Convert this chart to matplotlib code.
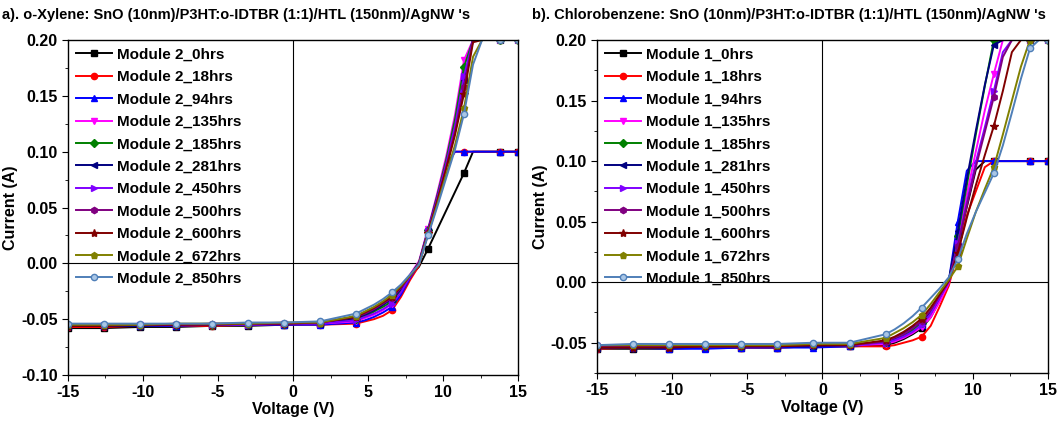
import matplotlib
matplotlib.use("Agg")
import matplotlib.pyplot as plt
from matplotlib.ticker import MultipleLocator, FormatStrFormatter

plt.rcParams["font.family"] = ["Liberation Sans", "DejaVu Sans"]
plt.rcParams["font.weight"] = "bold"
plt.rcParams["axes.labelweight"] = "bold"
plt.rcParams["axes.unicode_minus"] = False

# sweep voltages (V); markers every 2.4 V
V = [-15.0, -12.6, -10.2, -7.8, -5.4, -3.0, -0.6, 1.8,
     4.2, 4.8, 5.4, 6.0, 6.6, 7.2, 7.8,
     8.4, 9.0, 9.6, 10.2, 10.8, 11.4, 12.0, 12.6, 13.2, 13.8, 14.4, 15.0]
MARK_IDX = [0, 1, 2, 3, 4, 5, 6, 7, 8, 12, 16, 20, 24, 26]

HOURS = [0, 18, 94, 135, 185, 281, 450, 500, 600, 672, 850]
COLORS = ["#000000", "#ff0000", "#0000ff", "#ff00ff", "#008000", "#000080",
          "#8000ff", "#800080", "#800000", "#808000", "#4f7fb8"]
MARKERS = ["s", "o", "^", "v", "D", "<", ">", "h", "*", "p", "o"]

# a) o-Xylene, Module 2 (current in A)
xyl_0h = [-0.058, -0.058, -0.057, -0.057, -0.056, -0.056, -0.055, -0.054,
          -0.050, -0.047, -0.043, -0.037, -0.030, -0.021, -0.012,
          -0.003, 0.013, 0.030, 0.047, 0.064, 0.081, 0.100, 0.100, 0.100, 0.100, 0.100, 0.100]
xyl_18h = [-0.057, -0.057, -0.056, -0.056, -0.056, -0.055, -0.055, -0.055,
           -0.054, -0.052, -0.050, -0.047, -0.042, -0.030, -0.015,
           -0.002, 0.028, 0.057, 0.087, 0.100, 0.100, 0.100, 0.100, 0.100, 0.100, 0.100, 0.100]
xyl_94h = [-0.056, -0.056, -0.056, -0.056, -0.055, -0.055, -0.055, -0.055,
           -0.053, -0.051, -0.048, -0.044, -0.039, -0.028, -0.013,
           0.000, 0.029, 0.058, 0.088, 0.100, 0.100, 0.100, 0.100, 0.100, 0.100, 0.100, 0.100]
xyl_135h = [-0.056, -0.056, -0.055, -0.055, -0.055, -0.055, -0.054, -0.054,
            -0.052, -0.049, -0.046, -0.042, -0.036, -0.025, -0.010,
            0.002, 0.031, 0.062, 0.095, 0.133, 0.182, 0.200, 0.200, 0.200, 0.200, 0.200, 0.200]
xyl_185h = [-0.055, -0.055, -0.055, -0.055, -0.055, -0.054, -0.054, -0.053,
            -0.050, -0.047, -0.043, -0.039, -0.034, -0.024, -0.011,
            0.001, 0.030, 0.060, 0.092, 0.129, 0.176, 0.200, 0.200, 0.200, 0.200, 0.200, 0.200]
xyl_281h = [-0.056, -0.056, -0.056, -0.055, -0.055, -0.055, -0.054, -0.054,
            -0.049, -0.046, -0.042, -0.037, -0.032, -0.023, -0.011,
            0.000, 0.029, 0.058, 0.088, 0.121, 0.164, 0.200, 0.200, 0.200, 0.200, 0.200, 0.200]
xyl_450h = [-0.055, -0.055, -0.055, -0.055, -0.055, -0.055, -0.054, -0.054,
            -0.051, -0.048, -0.045, -0.041, -0.036, -0.026, -0.012,
            0.000, 0.029, 0.058, 0.089, 0.123, 0.168, 0.200, 0.200, 0.200, 0.200, 0.200, 0.200]
xyl_500h = [-0.055, -0.055, -0.055, -0.055, -0.054, -0.054, -0.054, -0.053,
            -0.048, -0.045, -0.041, -0.036, -0.031, -0.022, -0.011,
            0.000, 0.028, 0.056, 0.086, 0.118, 0.158, 0.200, 0.200, 0.200, 0.200, 0.200, 0.200]
xyl_600h = [-0.056, -0.056, -0.055, -0.055, -0.055, -0.054, -0.054, -0.053,
            -0.048, -0.044, -0.040, -0.035, -0.030, -0.021, -0.011,
            -0.001, 0.027, 0.055, 0.084, 0.115, 0.152, 0.198, 0.200, 0.200, 0.200, 0.200, 0.200]
xyl_672h = [-0.055, -0.055, -0.055, -0.054, -0.054, -0.054, -0.053, -0.053,
            -0.047, -0.043, -0.039, -0.034, -0.028, -0.020, -0.011,
            -0.001, 0.026, 0.052, 0.079, 0.106, 0.139, 0.185, 0.200, 0.200, 0.200, 0.200, 0.200]
xyl_850h = [-0.054, -0.054, -0.054, -0.054, -0.054, -0.053, -0.053, -0.052,
            -0.045, -0.041, -0.037, -0.032, -0.026, -0.019, -0.010,
            -0.001, 0.025, 0.050, 0.076, 0.102, 0.134, 0.178, 0.200, 0.200, 0.200, 0.200, 0.200]

# b) Chlorobenzene, Module 1
cb_0h = [-0.055, -0.055, -0.055, -0.054, -0.054, -0.054, -0.053, -0.053,
         -0.052, -0.050, -0.047, -0.043, -0.038, -0.029, -0.015,
         0.000, 0.030, 0.062, 0.093, 0.100, 0.100, 0.100, 0.100, 0.100, 0.100, 0.100, 0.100]
cb_18h = [-0.055, -0.054, -0.054, -0.054, -0.054, -0.054, -0.053, -0.053,
          -0.053, -0.052, -0.050, -0.048, -0.045, -0.036, -0.020,
          -0.003, 0.025, 0.055, 0.075, 0.095, 0.100, 0.100, 0.100, 0.100, 0.100, 0.100, 0.100]
cb_94h = [-0.054, -0.054, -0.055, -0.055, -0.054, -0.054, -0.054, -0.053,
          -0.050, -0.047, -0.044, -0.040, -0.035, -0.026, -0.013,
          0.001, 0.050, 0.092, 0.100, 0.100, 0.100, 0.100, 0.100, 0.100, 0.100, 0.100, 0.100]
cb_135h = [-0.053, -0.053, -0.053, -0.053, -0.053, -0.053, -0.052, -0.052,
           -0.051, -0.049, -0.046, -0.042, -0.037, -0.029, -0.016,
           -0.001, 0.035, 0.072, 0.108, 0.142, 0.172, 0.200, 0.200, 0.200, 0.200, 0.200, 0.200]
cb_185h = [-0.053, -0.053, -0.053, -0.053, -0.053, -0.052, -0.052, -0.052,
           -0.049, -0.046, -0.043, -0.039, -0.034, -0.025, -0.012,
           0.001, 0.038, 0.080, 0.122, 0.162, 0.200, 0.200, 0.200, 0.200, 0.200, 0.200, 0.200]
cb_281h = [-0.054, -0.054, -0.054, -0.053, -0.053, -0.053, -0.053, -0.052,
           -0.049, -0.046, -0.042, -0.037, -0.033, -0.024, -0.012,
           0.001, 0.042, 0.085, 0.125, 0.163, 0.196, 0.200, 0.200, 0.200, 0.200, 0.200, 0.200]
cb_450h = [-0.053, -0.053, -0.053, -0.053, -0.052, -0.052, -0.052, -0.052,
           -0.050, -0.048, -0.045, -0.041, -0.035, -0.026, -0.013,
           0.000, 0.032, 0.066, 0.099, 0.128, 0.158, 0.190, 0.200, 0.200, 0.200, 0.200, 0.200]
cb_500h = [-0.053, -0.053, -0.053, -0.053, -0.053, -0.052, -0.052, -0.052,
           -0.049, -0.046, -0.043, -0.038, -0.032, -0.023, -0.011,
           0.001, 0.030, 0.063, 0.095, 0.124, 0.153, 0.186, 0.200, 0.200, 0.200, 0.200, 0.200]
cb_600h = [-0.054, -0.054, -0.054, -0.053, -0.053, -0.053, -0.052, -0.052,
           -0.048, -0.045, -0.041, -0.036, -0.030, -0.021, -0.010,
           0.001, 0.024, 0.053, 0.080, 0.105, 0.129, 0.158, 0.190, 0.200, 0.200, 0.200, 0.200]
cb_672h = [-0.052, -0.052, -0.052, -0.052, -0.052, -0.052, -0.051, -0.051,
           -0.046, -0.042, -0.038, -0.033, -0.027, -0.018, -0.008,
           0.002, 0.013, 0.036, 0.058, 0.077, 0.095, 0.122, 0.150, 0.178, 0.200, 0.200, 0.200]
cb_850h = [-0.052, -0.051, -0.051, -0.051, -0.051, -0.051, -0.050, -0.050,
           -0.043, -0.039, -0.034, -0.028, -0.021, -0.013, -0.005,
           0.004, 0.019, 0.040, 0.058, 0.074, 0.090, 0.113, 0.140, 0.168, 0.193, 0.200, 0.200]

XYL = [xyl_0h, xyl_18h, xyl_94h, xyl_135h, xyl_185h, xyl_281h,
       xyl_450h, xyl_500h, xyl_600h, xyl_672h, xyl_850h]
CB = [cb_0h, cb_18h, cb_94h, cb_135h, cb_185h, cb_281h,
      cb_450h, cb_500h, cb_600h, cb_672h, cb_850h]


def draw_panel(ax, series, module, ylim, ylab_x):
    for i, (h, y) in enumerate(zip(HOURS, series)):
        face = "#a9c6e6" if h == 850 else COLORS[i]
        ms = 6 if MARKERS[i] == "*" else 4.5
        ax.plot(V, y, color=COLORS[i], lw=1.4, marker=MARKERS[i], ms=ms,
                mfc=face, mec=COLORS[i], markevery=MARK_IDX,
                label=f"Module {module}_{h}hrs")
    ax.axhline(0, color="black", lw=0.8, zorder=0)
    ax.axvline(0, color="black", lw=0.8, zorder=0)
    ax.set_xlim(-15, 15)
    ax.set_ylim(*ylim)
    ax.xaxis.set_major_locator(MultipleLocator(5))
    ax.xaxis.set_minor_locator(MultipleLocator(2.5))
    ax.yaxis.set_major_locator(MultipleLocator(0.05))
    ax.yaxis.set_minor_locator(MultipleLocator(0.025))
    ax.yaxis.set_major_formatter(FormatStrFormatter("%.2f"))
    ax.tick_params(which="both", direction="out", top=False, right=False, labelsize=11.5)
    ax.tick_params(which="major", length=4)
    ax.tick_params(which="minor", length=2.5)
    for s in ax.spines.values():
        s.set_linewidth(1.0)
    ax.set_xlabel("Voltage (V)", fontsize=11.5, labelpad=1)
    ax.set_ylabel("Current (A)", fontsize=11.5)
    ax.yaxis.set_label_coords(ylab_x, 0.5)
    ax.legend(loc="upper left", frameon=False, fontsize=11, handlelength=2.4,
              handletextpad=0.3, labelspacing=0.55, borderaxespad=0.2,
              borderpad=0.3)


fig = plt.figure(figsize=(10.62, 4.23), dpi=100)
ax_a = fig.add_axes([0.064, 0.1135, 0.4238, 0.7919])
ax_b = fig.add_axes([0.5621, 0.1182, 0.4247, 0.7872])

draw_panel(ax_a, XYL, 2, (-0.10, 0.20), -0.111)
draw_panel(ax_b, CB, 1, (-0.075, 0.20), -0.109)

fig.text(0.002, 1 - 15 / 423, "a). o-Xylene: SnO (10nm)/P3HT:o-IDTBR (1:1)/HTL (150nm)/AgNW 's",
         fontsize=10.5, fontweight="bold", va="center", ha="left")
fig.text(0.501, 1 - 15 / 423, "b). Chlorobenzene: SnO (10nm)/P3HT:o-IDTBR (1:1)/HTL (150nm)/AgNW 's",
         fontsize=10.5, fontweight="bold", va="center", ha="left")

fig.savefig("out.png", dpi=100)
